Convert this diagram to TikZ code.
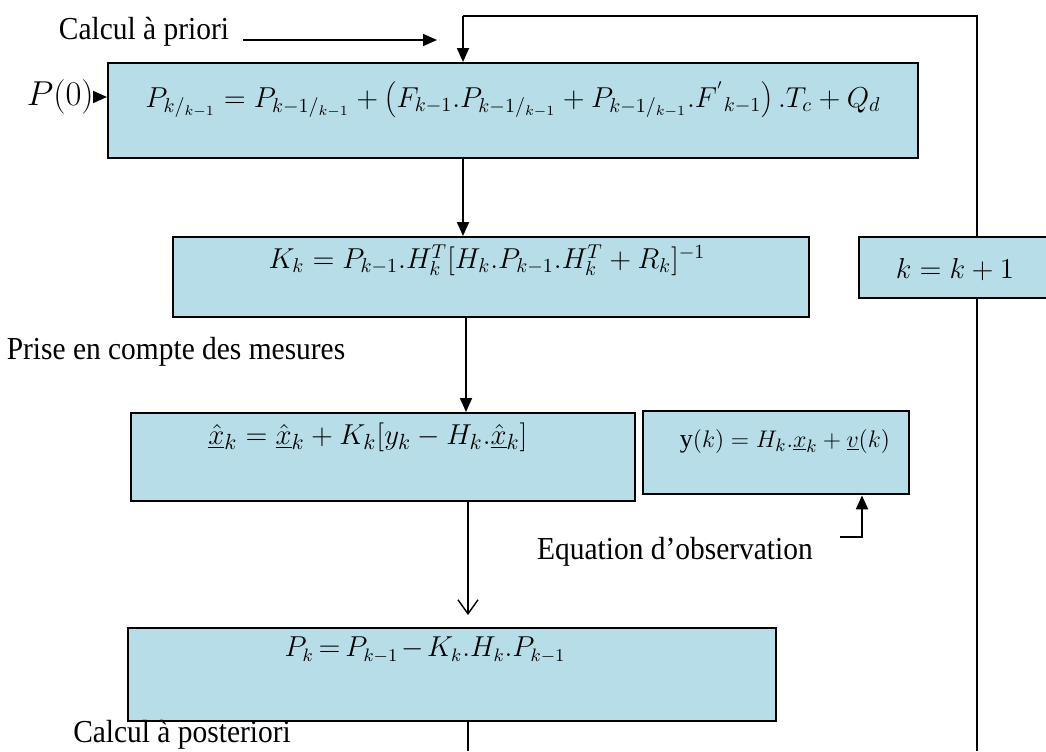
\documentclass[tikz,border=0pt]{standalone}
\usepackage{fontspec}
\setmainfont{Liberation Serif}
\newfontfamily\lblfont[FakeStretch=0.92]{Liberation Serif}
\usetikzlibrary{arrows.meta}
\definecolor{boxblue}{RGB}{183,222,232}
\begin{document}
\begin{tikzpicture}[x=0.5pt,y=-0.5pt,
  box/.style={draw=black, line width=1.2pt, fill=boxblue, inner sep=0pt, anchor=north west},
  lbl/.style={inner sep=0pt, font=\lblfont\fontsize{16}{19}\selectfont},
  eq/.style={inner sep=0pt, font=\fontsize{15}{18}\selectfont},
  conn/.style={draw, line width=1pt},
  thin/.style={draw, line width=0.7pt},
  tip/.style={-{Triangle[length=7pt,width=6pt]}},
  vtip/.style={-{Straight Barb[length=7pt,width=10pt]}}]
\useasboundingbox (0,0) rectangle (1046,751);
% boxes
\node[box, minimum width=405pt, minimum height=47.5pt] (b1) at (107,62) {};
\node[box, minimum width=318pt, minimum height=40pt] (b2) at (172,236) {};
\node[box, minimum width=96pt, minimum height=30.5pt] (kb) at (858,236) {};
\node[box, minimum width=252pt, minimum height=44pt] (b3) at (130,412) {};
\node[box, minimum width=133pt, minimum height=41.5pt] (yb) at (642,410) {};
\node[box, minimum width=324pt, minimum height=46.5pt] (b4) at (127,627) {};
% formulas
\node[eq, font=\fontsize{13.6}{16}\selectfont] (f1) at (513,100) {$P_{k{/}_{k-1}} = P_{k-1{/}_{k-1}} + \left(F_{k-1}.P_{k-1{/}_{k-1}} + P_{k-1{/}_{k-1}}.F^{'}{}_{k-1}\right).T_c + Q_d$};
\node[eq, font=\fontsize{14.5}{17}\selectfont] (f2) at (487,260) {$K_k = P_{k-1}.H_k^T[H_k.P_{k-1}.H_k^T + R_k]^{-1}$};
\node[eq] (fk) at (955,270) {$k = k+1$};
\node[eq] (f3) at (368,437) {$\underline{\hat{x}}_k = \underline{\hat{x}}_k + K_k[y_k - H_k.\underline{\hat{x}}_k]$};
\node[eq, font=\fontsize{13}{16}\selectfont] (fy) at (785,441) {$\mathrm{y}(k) = H_k.\underline{x}_k + \underline{v}(k)$};
\node[eq, font=\fontsize{13.5}{16}\selectfont] (f4) at (425,650) {$\medmuskip=2mu\thickmuskip=3mu P_k = P_{k-1} - K_k.H_k.P_{k-1}$};
% labels
\node[lbl] (ap) at (144,32) {Calcul à priori};
\node[lbl, anchor=east, font=\fontsize{17}{19}\selectfont] (p0) at (94,97) {$P(0)$};
\node[lbl] (pm) at (176,352) {Prise en compte des mesures};
\node[lbl] (eo) at (675,552) {Equation d’observation};
\node[lbl] (cp) at (182,735) {Calcul à posteriori};
% coordinates
\coordinate (a1) at (243,40);
\coordinate (a2) at (437,40);
\coordinate (c1) at (977,16);
\coordinate (c2) at (463,16);
\coordinate (c3) at (977,751);
\coordinate (c4) at (466,0);
\coordinate (c5) at (468,0);
\coordinate (c6) at (468,751);
\coordinate (o1) at (840,537);
\coordinate (o2) at (862,537);
% connectors
\draw[conn, tip] (a1) -- (a2);
\draw[thin] (c1 |- kb.north) -- (c1) -- (c2);
\draw[conn, tip] (c2) -- (c2 |- b1.north);
\draw[thin] (c3 |- kb.south) -- (c3);
\draw[conn, tip] (p0.east) -- (p0.east -| b1.west);
\draw[conn, tip] (c2 |- b1.south) -- (c2 |- b2.north);
\draw[conn, tip] (c4 |- b2.south) -- (c4 |- b3.north);
\draw[thin, vtip, shorten >=6pt] (c5 |- b3.south) -- (c5 |- b4.north);
\draw[thin] (c5 |- b4.south) -- (c6);
\draw[conn, tip] (o1) -- (o2) -- (o2 |- yb.south);
\end{tikzpicture}
\end{document}
